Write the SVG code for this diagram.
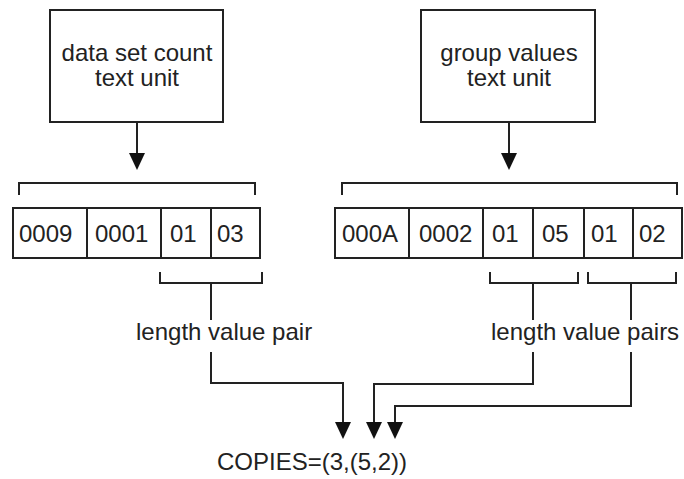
<svg xmlns="http://www.w3.org/2000/svg" width="684" height="479" viewBox="0 0 684 479">
<style>
.b{fill:#fff;stroke:#222;stroke-width:2}
.c{fill:none;stroke:#222;stroke-width:2}
.t{font-family:"Liberation Sans",Arial,sans-serif;font-size:24px;fill:#222}
.m{text-anchor:middle}
</style>
<defs>
<marker id="ah" markerUnits="userSpaceOnUse" markerWidth="17" markerHeight="16" refX="7" refY="8" orient="auto"><path d="M0,0 L17,8 L0,16 z" fill="#111"/></marker>
</defs>
<rect width="684" height="479" fill="#fff"/>
<g id="box-data-set-count">
<rect class="b" x="50" y="10" width="173" height="112"/>
<text class="t m" x="137" y="61">data set count</text>
<text class="t m" x="137" y="86">text unit</text>
</g>
<g id="box-group-values">
<rect class="b" x="421" y="10" width="174" height="112"/>
<text class="t m" x="509" y="61">group values</text>
<text class="t m" x="509" y="86">text unit</text>
</g>
<g id="table-left">
<rect class="b" x="13" y="208" width="247" height="50"/>
<path class="c" d="M87,208V258M161,208V258M211,208V258"/>
<text class="t" x="19" y="242">0009</text>
<text class="t" x="95" y="242">0001</text>
<text class="t" x="170" y="242">01</text>
<text class="t" x="217" y="242">03</text>
</g>
<g id="table-right">
<rect class="b" x="335" y="208" width="347" height="50"/>
<path class="c" d="M409,208V258M483,208V258M533,208V258M584,208V258M633,208V258"/>
<text class="t" x="342" y="242">000A</text>
<text class="t" x="419" y="242">0002</text>
<text class="t" x="492" y="242">01</text>
<text class="t" x="542" y="242">05</text>
<text class="t" x="591" y="242">01</text>
<text class="t" x="639" y="242">02</text>
</g>
<g id="label-pair">
<text class="t" x="136" y="340">length value pair</text>
</g>
<g id="label-pairs">
<text class="t" x="491" y="340">length value pairs</text>
</g>
<g id="result">
<text class="t" x="217" y="470">COPIES=(3,(5,2))</text>
</g>
<g id="connectors">
<path class="c" d="M19,195V183H255V195"/>
<path class="c" d="M342,195V183H677V195"/>
<path class="c" d="M160,272V283H262V272"/>
<path class="c" d="M490,272V283H578V272"/>
<path class="c" d="M588,272V283H676V272"/>
<path class="c" d="M137,122V160" marker-end="url(#ah)"/>
<path class="c" d="M509,122V160" marker-end="url(#ah)"/>
<path class="c" d="M211,283V320"/>
<path class="c" d="M533,283V320"/>
<path class="c" d="M631,283V320"/>
<path class="c" d="M211,352V383H343V429" marker-end="url(#ah)"/>
<path class="c" d="M533,352V384H374V429" marker-end="url(#ah)"/>
<path class="c" d="M631,352V406H395V429" marker-end="url(#ah)"/>
</g>
</svg>
